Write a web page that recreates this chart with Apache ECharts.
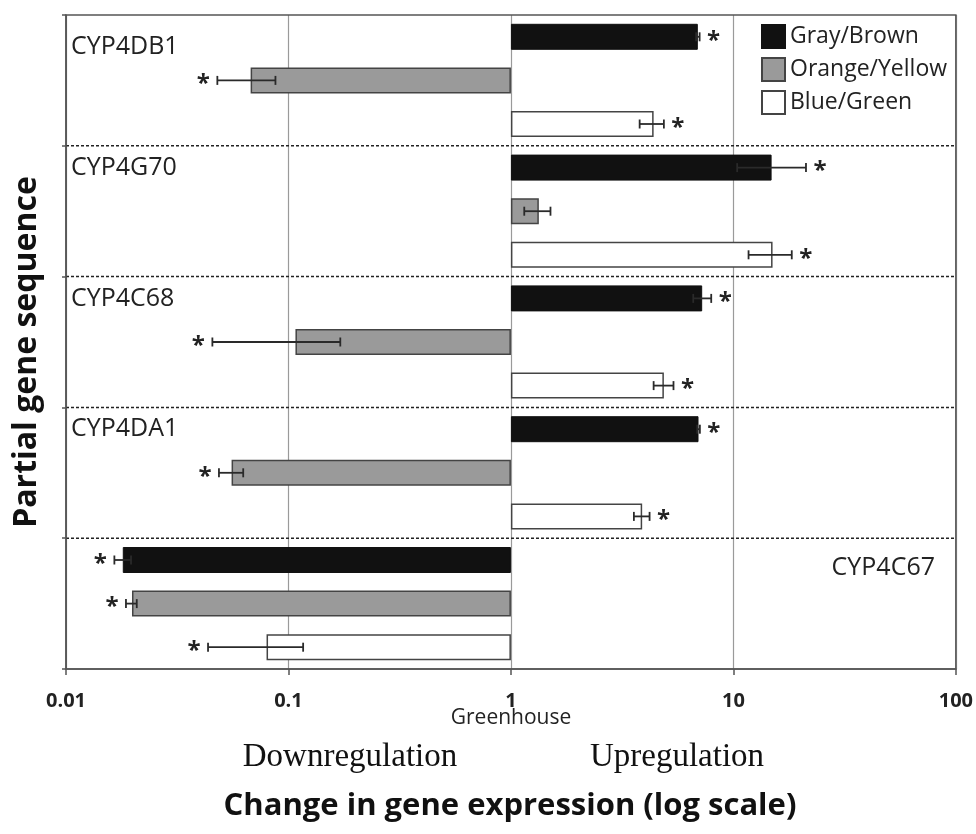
<!DOCTYPE html>
<html><head><meta charset="utf-8">
<script src="https://cdn.jsdelivr.net/npm/echarts@6/dist/echarts.min.js"></script>
<style>html,body{margin:0;padding:0;background:#fff}#c{width:976px;height:834px}</style>
</head><body><div id="c"></div>
<script>
// ---- data ----
const genes = ['CYP4DB1', 'CYP4G70', 'CYP4C68', 'CYP4DA1', 'CYP4C67'];
const seriesNames = ['Gray/Brown', 'Orange/Yellow', 'Blue/Green'];
const tickLabels = ['0.01', '0.1', '1', '10', '100'];

const grayBrown     = [6.92, 14.85, 7.24, 6.97, 0.0180];
const grayBrownLow  = [6.80, 10.4, 6.60, 6.88, 0.0165];
const grayBrownHigh = [7.05, 21.2, 7.95, 7.07, 0.0196];
const grayBrownSig  = [1, 1, 1, 1, 1];

const orangeYellow     = [0.0676, 1.335, 0.1075, 0.0555, 0.0198];
const orangeYellowLow  = [0.0479, 1.148, 0.0455, 0.0487, 0.0186];
const orangeYellowHigh = [0.0874, 1.506, 0.171, 0.0626, 0.0208];
const orangeYellowSig  = [1, 0, 1, 1, 1];

const blueGreen     = [4.38, 15.0, 4.87, 3.89, 0.0797];
const blueGreenLow  = [3.79, 11.7, 4.38, 3.57, 0.0435];
const blueGreenHigh = [4.87, 18.3, 5.38, 4.20, 0.1164];
const blueGreenSig  = [1, 1, 1, 1, 1];

// ---- build ----
const values = [grayBrown, orangeYellow, blueGreen];
const lows = [grayBrownLow, orangeYellowLow, blueGreenLow];
const highs = [grayBrownHigh, orangeYellowHigh, blueGreenHigh];
const sigs = [grayBrownSig, orangeYellowSig, blueGreenSig];
const styles = [
  {color: '#111111', borderColor: '#111111', borderWidth: 1},
  {color: '#9a9a9a', borderColor: '#444444', borderWidth: 1.5},
  {color: '#ffffff', borderColor: '#444444', borderWidth: 1.5}
];

const slots = [];
genes.forEach(g => seriesNames.forEach(s => slots.push(g + '|' + s)));

function slotData(vals, k) {
  const d = slots.map(() => '-');
  vals.forEach((v, g) => { d[g * 3 + k] = v; });
  return d;
}

const errData = [];
for (let k = 0; k < 3; k++) {
  for (let g = 0; g < genes.length; g++) {
    errData.push([lows[k][g], highs[k][g], g * 3 + k, sigs[k][g], values[k][g]]);
  }
}
// separators between consecutive genes (index of the lower gene)
const sepData = genes.slice(1).map((g, i) => [i + 1]);

const FONT = '"Open Sans", "Noto Sans", sans-serif';

const barSeries = seriesNames.map((name, k) => ({
  name: name,
  type: 'bar',
  xAxisIndex: 0,
  yAxisIndex: 0,
  barWidth: 26,
  barGap: '-100%',
  data: slotData(values[k], k),
  itemStyle: styles[k],
  z: 3
}));

const chart = echarts.init(document.getElementById('c'));

chart.setOption({
  animation: false,
  backgroundColor: '#ffffff',
  grid: {left: 66, top: 15, width: 892, height: 654, show: true,
         borderColor: '#555555', borderWidth: 1.5, backgroundColor: 'transparent', z: 6},
  legend: {
    data: seriesNames,
    orient: 'vertical',
    left: 756, top: 19,
    itemWidth: 23, itemHeight: 23, itemGap: 8,
    icon: 'rect',
    textStyle: {fontFamily: FONT, fontSize: 23, color: '#222'}
  },
  xAxis: {
    type: 'log', logBase: 10, min: 0.01, max: 100,
    axisLine: {show: true, onZero: false, lineStyle: {color: '#555', width: 1.5}},
    axisTick: {show: true, length: 6, lineStyle: {color: '#555', width: 1.5}},
    splitLine: {show: true, lineStyle: {color: '#9a9a9a', width: 1.2}},
    axisLabel: {
      margin: 22,
      fontFamily: FONT, fontWeight: 'bold', fontSize: 20, color: '#222',
      formatter: v => tickLabels[Math.round(Math.log10(v)) + 2]
    }
  },
  yAxis: [
    {type: 'category', data: slots, inverse: true, show: false, position: 'left'},
    {type: 'category', data: genes, inverse: true, position: 'left',
     axisLine: {show: true, onZero: false, lineStyle: {color: '#555', width: 1.5}},
     axisTick: {show: true, length: 4, lineStyle: {color: '#555', width: 1.5}},
     axisLabel: {show: false},
     splitLine: {show: false}}
  ],
  series: barSeries.concat([{
    name: 'separators',
    type: 'custom',
    xAxisIndex: 0, yAxisIndex: 1,
    data: sepData,
    encode: {y: 0},
    z: 2,
    silent: true,
    renderItem: function (params, api) {
      const idx = api.value(0);
      const half = api.size([0, 1])[1] / 2;
      const a = api.coord([0.01, idx]);
      const b = api.coord([100, idx]);
      const y = a[1] - half;
      return {type: 'line', shape: {x1: a[0], y1: y, x2: b[0], y2: y},
              style: {stroke: '#222', lineWidth: 1.5, lineDash: [3, 2]}};
    }
  }, {
    name: 'errors',
    type: 'custom',
    xAxisIndex: 0, yAxisIndex: 0,
    data: errData,
    encode: {x: [0, 1], y: 2},
    z: 5,
    renderItem: function (params, api) {
      const lo = api.value(0), hi = api.value(1), slot = api.value(2);
      const sig = api.value(3), v = api.value(4);
      const p1 = api.coord([lo, slot]);
      const p2 = api.coord([hi, slot]);
      const y = p1[1], c = 4.5;
      const st = {stroke: '#2a2a2a', lineWidth: 1.8};
      const children = [
        {type: 'line', shape: {x1: p1[0], y1: y, x2: p2[0], y2: y}, style: st},
        {type: 'line', shape: {x1: p1[0], y1: y - c, x2: p1[0], y2: y + c}, style: st},
        {type: 'line', shape: {x1: p2[0], y1: y - c, x2: p2[0], y2: y + c}, style: st}
      ];
      if (sig) {
        const x = v >= 1 ? p2[0] + 14 : p1[0] - 14;
        children.push({type: 'text', x: x, y: y + 4,
          style: {text: '*', font: 'bold 24px ' + FONT, fill: '#222', align: 'center', verticalAlign: 'middle'}});
      }
      return {type: 'group', children: children};
    }
  }])
});

// gene labels, anchored to each gene's first bar slot
const labelLayout = [
  {dy: 10, right: false}, {dy: 0, right: false}, {dy: 0, right: false},
  {dy: 0, right: false}, {dy: 8, right: true}
];
const gridLeft = 66, gridRight = 958;
const graphics = genes.map((g, i) => {
  const y = chart.convertToPixel({yAxisIndex: 0}, slots[i * 3]);
  const lay = labelLayout[i];
  return {
    type: 'text',
    x: lay.right ? gridRight - 23 : gridLeft + 5,
    y: y + lay.dy,
    style: {text: g, font: '25px ' + FONT, fill: '#222',
            align: lay.right ? 'right' : 'left', verticalAlign: 'middle'},
    z: 10
  };
});
graphics.push(
  {type: 'text', x: 511, y: 718, style: {text: 'Greenhouse', font: '21px ' + FONT, fill: '#222', align: 'center', verticalAlign: 'middle'}},
  {type: 'text', x: 350, y: 757, style: {text: 'Downregulation', font: '33px "Liberation Serif", serif', fill: '#111', align: 'center', verticalAlign: 'middle'}},
  {type: 'text', x: 677, y: 757, style: {text: 'Upregulation', font: '33px "Liberation Serif", serif', fill: '#111', align: 'center', verticalAlign: 'middle'}},
  {type: 'text', x: 510, y: 806, style: {text: 'Change in gene expression (log scale)', font: 'bold 31px ' + FONT, fill: '#111', align: 'center', verticalAlign: 'middle'}},
  {type: 'text', x: 27, y: 352, rotation: Math.PI / 2, style: {text: 'Partial gene sequence', font: 'bold 32px ' + FONT, fill: '#111', align: 'center', verticalAlign: 'middle'}}
);
chart.setOption({graphic: graphics});
</script>
</body></html>
